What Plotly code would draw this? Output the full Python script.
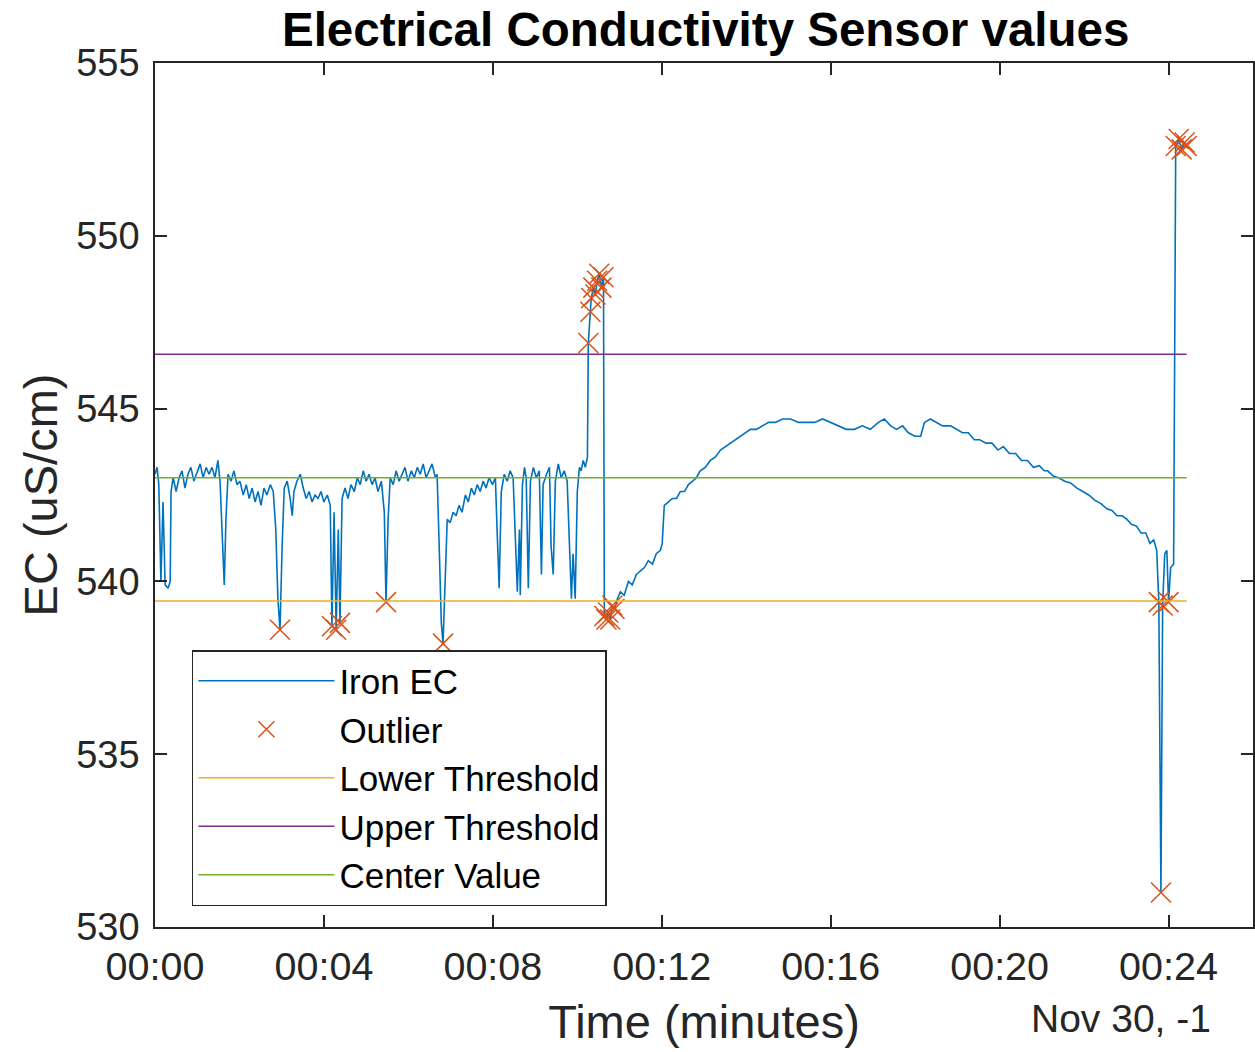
import plotly.graph_objects as go

# ---- data (time in minutes, EC in uS/cm) ----
# segment 1: noisy baseline 00:00 - 00:10
seg1_t = [
    0.00, 0.05, 0.09, 0.14, 0.19, 0.24, 0.31, 0.36, 0.38, 0.43, 0.50, 0.57, 0.64, 0.71, 0.78, 0.85, 0.92, 1.00,
    1.07, 1.14, 1.21, 1.28, 1.35, 1.42, 1.49, 1.54, 1.59, 1.64, 1.68, 1.73, 1.80, 1.87, 1.94, 2.01, 2.09, 2.16,
    2.23, 2.30, 2.37, 2.44, 2.51, 2.58, 2.65, 2.73, 2.80, 2.86, 2.91, 2.96, 3.01, 3.06, 3.13, 3.20, 3.25, 3.29,
    3.36, 3.44, 3.51, 3.58, 3.65, 3.72, 3.79, 3.86, 3.93, 4.00, 4.08, 4.15, 4.19, 4.24, 4.29, 4.34, 4.38, 4.43,
    4.50, 4.57, 4.64, 4.72, 4.79, 4.86, 4.93, 5.00, 5.07, 5.14, 5.21, 5.28, 5.36, 5.43, 5.47, 5.52, 5.57, 5.64,
    5.71, 5.78, 5.85, 5.92, 5.99, 6.07, 6.14, 6.21, 6.28, 6.35, 6.42, 6.49, 6.56, 6.64, 6.68, 6.73, 6.78, 6.82,
    6.87, 6.92, 6.99, 7.06, 7.13, 7.20, 7.27, 7.35, 7.42, 7.49, 7.56, 7.63, 7.70, 7.77, 7.84, 7.91, 7.99, 8.06,
    8.10, 8.15, 8.20, 8.27, 8.34, 8.41, 8.48, 8.53, 8.58, 8.63, 8.65, 8.70, 8.75, 8.79, 8.84, 8.89, 8.96, 9.03,
    9.10, 9.15, 9.19, 9.27, 9.34, 9.38, 9.43, 9.48, 9.55, 9.62, 9.69, 9.76, 9.81, 9.86, 9.90, 9.95, 10.00, 10.05,
    10.09, 10.14, 10.19, 10.24,
]
seg1_v = [
    543.1, 543.3, 542.8, 540.0, 542.3, 539.9, 539.8, 540.0, 542.6, 543.0, 542.6, 543.0, 543.2, 542.7, 543.1, 543.3, 542.9, 543.2,
    543.4, 543.0, 543.3, 543.1, 543.3, 543.0, 543.5, 542.9, 541.5, 539.9, 541.8, 543.1, 542.9, 543.2, 542.8, 542.9, 542.5, 542.8,
    542.4, 542.7, 542.3, 542.6, 542.2, 542.7, 542.5, 542.8, 542.6, 541.5, 539.5, 538.6, 541.0, 542.7, 542.9, 542.4, 541.9, 542.6,
    542.9, 543.1, 542.7, 542.4, 542.6, 542.3, 542.5, 542.4, 542.6, 542.3, 542.5, 542.2, 538.7, 542.0, 538.6, 541.5, 538.8, 542.4,
    542.7, 542.4, 542.8, 542.6, 543.0, 542.8, 543.2, 542.9, 543.1, 542.8, 543.0, 542.6, 542.9, 542.0, 539.4, 541.8, 543.0, 542.8,
    543.2, 542.9, 543.1, 543.3, 542.9, 543.2, 543.0, 543.3, 543.1, 543.4, 543.0, 543.2, 543.4, 543.0, 543.1, 541.0, 538.8, 538.2,
    540.0, 541.8, 541.7, 542.0, 541.9, 542.2, 542.0, 542.5, 542.3, 542.7, 542.5, 542.8, 542.6, 542.9, 542.7, 543.0, 542.8, 543.0,
    541.5, 539.8, 542.6, 543.1, 542.9, 543.2, 543.0, 541.0, 539.7, 541.5, 539.6, 542.8, 543.3, 543.0, 539.8, 542.9, 543.3, 543.0,
    543.2, 540.2, 542.8, 543.1, 543.3, 541.0, 540.2, 542.9, 543.4, 543.0, 543.2, 542.9, 541.0, 539.5, 540.8, 539.5, 542.6, 543.3,
    543.2, 543.5, 543.3, 543.6,
]
# segment 2: spike above the upper threshold and drop (00:10 - 00:11)
seg2_t = [10.26, 10.31, 10.33, 10.38, 10.43, 10.47, 10.52, 10.57, 10.62, 10.64, 10.69,
          10.73, 10.78, 10.83, 10.88]
seg2_v = [546.9, 547.8, 548.2, 548.5, 548.3, 548.7, 548.9, 548.5, 548.8, 539.0, 538.9,
          539.1, 538.9, 539.3, 539.2]
# segment 3: slow rise and plateau (00:11 - 00:18)
seg3_t = [10.95, 11.02, 11.11, 11.21, 11.30, 11.40, 11.49, 11.59, 11.68, 11.78, 11.87,
          11.97, 12.01, 12.06, 12.16, 12.25, 12.35, 12.44, 12.54, 12.63, 12.73, 12.82, 12.91, 13.03, 13.15, 13.27,
          13.39, 13.51, 13.63, 13.74, 13.86, 13.98, 14.10, 14.24, 14.38, 14.53, 14.69, 14.86, 15.05, 15.24, 15.43,
          15.62, 15.81, 16.00, 16.18, 16.37, 16.56, 16.75, 16.94, 17.13, 17.27, 17.42, 17.56, 17.70, 17.84, 17.99,
          18.13, 18.22]
seg3_v = [539.5, 539.7, 539.6, 540.0, 539.9, 540.2, 540.3, 540.4, 540.6, 540.5, 540.8,
          540.9, 541.1, 542.2, 542.3, 542.4, 542.4, 542.6, 542.6, 542.8, 542.9, 543.0, 543.2, 543.3, 543.5, 543.6,
          543.8, 543.9, 544.0, 544.1, 544.2, 544.3, 544.4, 544.4, 544.5, 544.6, 544.6, 544.7, 544.7, 544.6, 544.6,
          544.6, 544.7, 544.6, 544.5, 544.4, 544.4, 544.5, 544.4, 544.6, 544.7, 544.5, 544.4, 544.5, 544.3, 544.2,
          544.2, 544.6]
# segment 4: decline (00:18 - 00:24)
seg4_t = [18.36, 18.51, 18.65, 18.84, 18.98, 19.12, 19.26, 19.40, 19.53, 19.68, 19.82, 19.96, 20.09, 20.23,
          20.38, 20.52, 20.66, 20.80, 20.94, 21.06, 21.14, 21.27, 21.40, 21.54, 21.68, 21.83, 21.97, 22.11,
          22.25, 22.40, 22.54, 22.66, 22.78, 22.90, 23.01, 23.12, 23.24, 23.35, 23.46, 23.56, 23.65, 23.72]
seg4_v = [544.7, 544.6, 544.5, 544.5, 544.4, 544.3, 544.3, 544.1, 544.1, 544.0, 544.0, 543.8, 543.9, 543.7,
          543.7, 543.5, 543.5, 543.3, 543.35, 543.2, 543.2, 543.05, 543.0, 542.9, 542.85, 542.7, 542.6, 542.5,
          542.35, 542.25, 542.1, 542.05, 541.9, 541.9, 541.8, 541.65, 541.6, 541.4, 541.4, 541.1, 541.2, 540.9]
# segment 5: final drops and jump (00:23.7 - 00:24.4)
seg5_t = [23.77, 23.82, 23.86, 23.91, 23.96, 24.00, 24.05, 24.12, 24.17, 24.24, 24.31, 24.38, 24.43]
seg5_v = [539.4, 531.0, 539.3, 540.8, 540.9, 539.4, 540.4, 540.5, 552.6, 552.8, 552.5, 552.7, 552.6]

time_min = seg1_t + seg2_t + seg3_t + seg4_t + seg5_t
ec_values = seg1_v + seg2_v + seg3_v + seg4_v + seg5_v
assert len(time_min) == len(ec_values)

outlier_t = [2.96, 4.19, 4.29, 4.38, 5.47, 6.82,
             10.26, 10.31, 10.33, 10.38, 10.43, 10.47, 10.52, 10.57, 10.62,
             10.64, 10.69, 10.73, 10.78, 10.83, 10.88,
             23.77, 23.82, 23.86, 24.00, 24.17, 24.24, 24.31, 24.38, 24.43]
outlier_v = [538.6, 538.7, 538.6, 538.8, 539.4, 538.2,
             546.9, 547.8, 548.2, 548.5, 548.3, 548.7, 548.9, 548.5, 548.8,
             539.0, 538.9, 539.1, 538.9, 539.3, 539.2,
             539.4, 531.0, 539.3, 539.4, 552.6, 552.8, 552.5, 552.7, 552.6]

threshold_t = [0.0, 24.43]
lower_threshold = [539.43, 539.43]
upper_threshold = [546.57, 546.57]
center_value = [543.0, 543.0]

x_tick_vals = [0, 4, 8, 12, 16, 20, 24]
x_tick_text = ["00:00", "00:04", "00:08", "00:12", "00:16", "00:20", "00:24"]
y_tick_vals = [530, 535, 540, 545, 550, 555]

FONT = "Liberation Sans, Arial, Helvetica, sans-serif"
INK = "#262626"

fig = go.Figure()
fig.add_trace(go.Scatter(x=time_min, y=ec_values, mode="lines", name="Iron EC",
                         line=dict(color="#0072BD", width=1.6)))
fig.add_trace(go.Scatter(x=outlier_t, y=outlier_v, mode="markers", name="Outlier",
                         marker=dict(symbol="x-thin", size=20, color="#D95319",
                                     line=dict(color="#D95319", width=1.5))))
fig.add_trace(go.Scatter(x=threshold_t, y=lower_threshold, mode="lines", name="Lower Threshold",
                         line=dict(color="#EDB120", width=1.5)))
fig.add_trace(go.Scatter(x=threshold_t, y=upper_threshold, mode="lines", name="Upper Threshold",
                         line=dict(color="#7E2F8E", width=1.5)))
fig.add_trace(go.Scatter(x=threshold_t, y=center_value, mode="lines", name="Center Value",
                         line=dict(color="#77AC30", width=1.5)))

fig.update_layout(
    width=1255, height=1052,
    margin=dict(l=155, r=0, t=63, b=125),
    paper_bgcolor="white", plot_bgcolor="white",
    font=dict(family=FONT, color=INK),
    title=dict(text="Electrical Conductivity Sensor values", x=0.5623, xanchor="center",
               y=0.972, yanchor="middle",
               font=dict(family=FONT, size=47.5, color="black", weight="bold")),
    showlegend=True,
    legend=dict(x=0.0336, y=0.3206, xanchor="left", yanchor="top",
                bgcolor="white", bordercolor=INK, borderwidth=1.5,
                font=dict(family=FONT, size=35, color="black"),
                itemwidth=136, tracegroupgap=0,
                entrywidth=285, entrywidthmode="pixels"),
    xaxis=dict(range=[0, 26], tickvals=x_tick_vals, ticktext=x_tick_text,
               showgrid=False, zeroline=False,
               showline=True, linecolor=INK, linewidth=1.5, mirror="ticks",
               ticks="inside", ticklen=12, tickwidth=1.5, tickcolor=INK,
               tickfont=dict(family=FONT, size=39.5, color=INK), ticklabelstandoff=4,
               title=dict(text="Time (minutes)", font=dict(family=FONT, size=47, color=INK), standoff=18)),
    yaxis=dict(range=[530, 555], tickvals=y_tick_vals,
               showgrid=False, zeroline=False,
               showline=True, linecolor=INK, linewidth=1.5, mirror="ticks",
               ticks="inside", ticklen=12, tickwidth=1.5, tickcolor=INK,
               tickfont=dict(family=FONT, size=38, color=INK), ticklabelstandoff=6,
               title=dict(text="EC (uS/cm)", font=dict(family=FONT, size=47, color=INK), standoff=4)),
)

fig.add_annotation(text="Nov 30, -1", xref="paper", yref="paper", x=0.9636, y=-0.106,
                   xanchor="right", yanchor="middle", showarrow=False,
                   font=dict(family=FONT, size=39, color=INK))

fig.write_html("out.html")
